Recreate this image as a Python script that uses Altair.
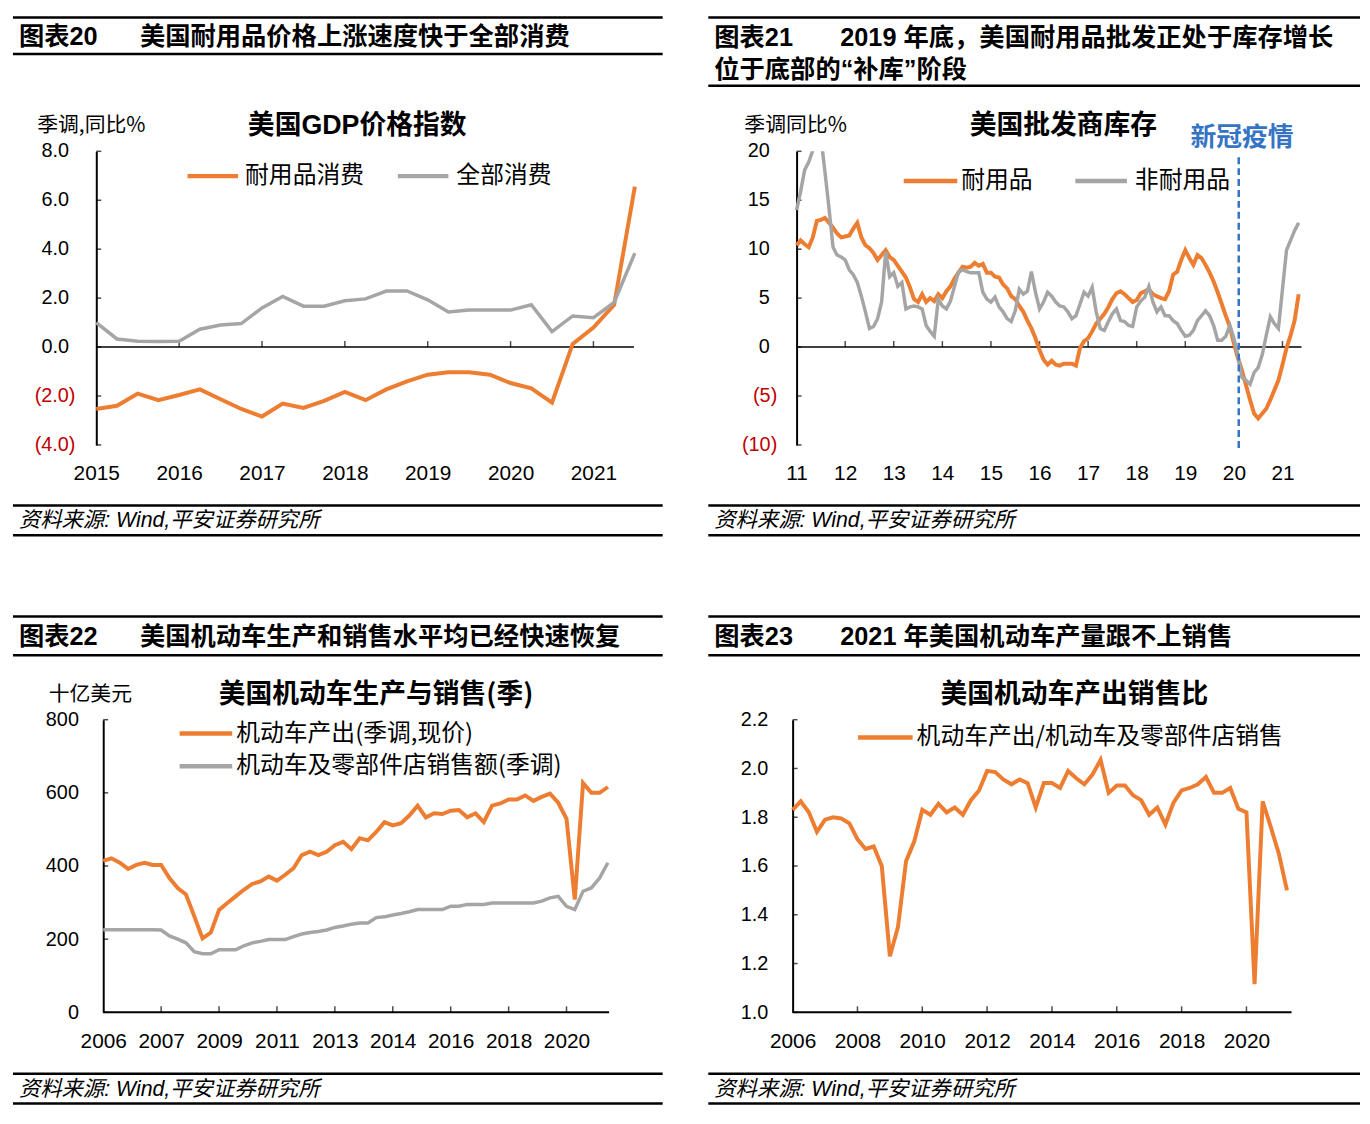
import altair as alt
import pandas as pd

# ---------------- data ----------------
# 图表20  美国GDP价格指数 (quarterly, first point 2015Q1), 季调同比 %
gdp_q = list(range(27))
gdp_durable = [-2.53, -2.40, -1.90, -2.17, -1.96, -1.73, -2.13, -2.53, -2.84, -2.31,
               -2.49, -2.20, -1.83, -2.17, -1.73, -1.40, -1.13, -1.03, -1.03, -1.13,
               -1.47, -1.69, -2.27, 0.13, 0.80, 1.73, 6.56]
gdp_all = [1.00, 0.33, 0.24, 0.23, 0.24, 0.73, 0.90, 0.96, 1.60, 2.07,
           1.67, 1.67, 1.89, 1.97, 2.29, 2.29, 1.93, 1.43, 1.51, 1.51,
           1.51, 1.73, 0.63, 1.27, 1.20, 1.83, 3.84]
gdp_x_ticks = [0, 4, 8, 12, 16, 20, 24]
gdp_y_ticks = [-4, -2, 0, 2, 4, 6, 8]
gdp_y_labels = ["(4.0)", "(2.0)", "0.0", "2.0", "4.0", "6.0", "8.0"]

# 图表21  美国批发商库存 (monthly, first point 2011-01), 季调同比 %
inv_m = list(range(125))
inv_durable = [10.4, 10.9, 10.5, 10.2, 11.2, 12.9, 13.0, 13.2, 12.7, 12.2,
               11.6, 11.2, 11.3, 11.4, 12.1, 12.7, 11.2, 10.4, 10.1, 9.6,
               8.9, 9.4, 9.9, 9.2, 8.9, 8.3, 7.7, 7.1, 6.1, 4.9,
               4.6, 5.4, 4.6, 5.0, 4.7, 5.4, 5.0, 5.7, 6.2, 7.0,
               7.6, 8.2, 8.1, 8.2, 8.6, 8.3, 8.5, 7.6, 7.6, 7.2,
               7.1, 6.4, 6.0, 5.2, 4.9, 4.2, 3.6, 2.7, 1.9, 0.9,
               -0.3, -1.3, -1.8, -1.4, -1.8, -1.9, -1.7, -1.7, -1.7, -1.9,
               -0.1, 0.6, 0.9, 1.6, 2.4, 2.9, 3.4, 4.1, 4.9, 5.5,
               5.7, 5.4, 5.0, 4.6, 4.8, 5.5, 5.7, 5.9, 5.4, 5.2,
               5.0, 4.9, 5.7, 7.4, 7.7, 8.9, 9.9, 9.1, 8.4, 9.4,
               9.1, 8.4, 7.6, 6.7, 5.6, 4.4, 3.2, 2.1, 0.4, -1.1,
               -2.4, -3.9, -5.4, -6.8, -7.3, -6.8, -6.3, -5.4, -4.4, -3.4,
               -1.8, -0.1, 1.2, 2.7, 5.4]
inv_nondurable = [14.0, 15.9, 18.1, 18.9, 20.1, 22.0, 21.5, 17.9, 14.2, 10.2,
                  9.4, 9.2, 8.9, 7.9, 7.4, 6.6, 5.2, 3.6, 1.9, 2.1,
                  2.9, 4.6, 9.7, 7.2, 7.6, 6.2, 6.6, 3.9, 4.1, 4.2,
                  4.1, 3.9, 2.2, 1.6, 1.1, 4.9, 4.2, 3.9, 4.7, 6.2,
                  7.7, 7.9, 7.7, 7.6, 7.6, 7.6, 5.6, 4.9, 4.6, 5.1,
                  4.1, 3.6, 2.9, 2.6, 3.7, 5.9, 5.4, 5.7, 7.7, 5.6,
                  3.9, 4.6, 5.6, 5.2, 4.6, 4.2, 4.1, 3.6, 2.9, 3.2,
                  4.4, 5.6, 5.2, 6.1, 3.6, 1.9, 1.7, 2.6, 3.4, 3.9,
                  2.7, 2.6, 2.2, 2.1, 4.1, 4.7, 5.1, 6.2, 4.6, 3.6,
                  4.1, 3.2, 3.2, 2.7, 2.4, 1.7, 1.1, 1.2, 1.7, 2.7,
                  3.2, 3.7, 3.2, 2.2, 0.7, 0.7, 1.1, 2.2, 0.9, -0.8,
                  -3.1, -3.4, -3.8, -2.6, -2.1, -0.8, 1.2, 3.1, 2.4, 1.9,
                  5.9, 9.9, 10.9, 11.9, 12.7]
inv_x_ticks = [0, 12, 24, 36, 48, 60, 72, 84, 96, 108, 120]
inv_y_ticks = [-10, -5, 0, 5, 10, 15, 20]
inv_y_labels = ["(10)", "(5)", "0", "5", "10", "15", "20"]
covid_month = [109.2]

# 图表22/23  (quarterly, first point 2006Q1), 十亿美元
auto_q = list(range(62))
auto_output = [414, 421, 409, 392, 403, 409, 403, 403, 367, 340,
               322, 263, 202, 218, 280, 299, 317, 335, 351, 358,
               371, 360, 376, 394, 430, 439, 430, 439, 457, 466,
               446, 476, 470, 493, 520, 511, 517, 538, 565, 533,
               544, 542, 551, 553, 533, 544, 520, 565, 571, 582,
               582, 593, 578, 589, 598, 573, 529, 308, 627, 600,
               600, 616]
auto_sales = [226, 226, 226, 226, 226, 226, 226, 225, 209, 200,
              190, 166, 160, 160, 171, 171, 171, 182, 190, 194,
              199, 199, 199, 207, 214, 218, 221, 225, 232, 236,
              241, 244, 244, 259, 261, 266, 270, 275, 281, 281,
              281, 281, 290, 290, 295, 295, 295, 299, 299, 299,
              299, 299, 299, 304, 313, 317, 290, 281, 331, 340,
              367, 409]
auto_ratio = [1.83, 1.865, 1.82, 1.74, 1.79, 1.80, 1.795, 1.775, 1.71, 1.67,
              1.68, 1.60, 1.23, 1.35, 1.62, 1.70, 1.83, 1.81, 1.855, 1.82,
              1.84, 1.81, 1.87, 1.91, 1.99, 1.985, 1.955, 1.935, 1.955, 1.94,
              1.84, 1.94, 1.94, 1.92, 1.99, 1.96, 1.935, 1.975, 2.035, 1.90,
              1.93, 1.93, 1.89, 1.87, 1.81, 1.84, 1.77, 1.86, 1.91, 1.92,
              1.935, 1.965, 1.90, 1.90, 1.92, 1.835, 1.82, 1.115, 1.865, 1.76,
              1.65, 1.50]
auto3_x_ticks = [0, 7, 14, 21, 28, 35, 42, 49, 56]
auto4_x_ticks = [0, 8, 16, 24, 32, 40, 48, 56]
auto3_y_ticks = [0, 200, 400, 600, 800]
auto4_y_ticks = [1.0, 1.2, 1.4, 1.6, 1.8, 2.0, 2.2]

# ---------------- style ----------------
ORANGE = "#ED7D31"
GRAY = "#A5A5A5"
RED = "#C00000"
BLUE = "#3574C4"
NUM = "Liberation Sans, Noto Sans CJK SC"
CJK = "Noto Sans CJK SC, Liberation Sans"
SOURCE = "资料来源: Wind,平安证券研究所"
HEAD = 25.5
TITLE = 27
LEG = 24

one = pd.DataFrame({"k": [0]})


def txt(x, y, s, size=20, weight="normal", align="left", color="black", style="normal", font=CJK):
    return alt.Chart(one).mark_text(
        align=align, baseline="middle", font=font, fontSize=size,
        fontWeight=weight, fontStyle=style, color=color
    ).encode(x=alt.value(x), y=alt.value(y), text=alt.value(s))


def hline(xa, xb, y, w=2.5, color="black"):
    return alt.Chart(one).mark_rule(color=color, strokeWidth=w).encode(
        x=alt.value(xa), x2=alt.value(xb), y=alt.value(y))


def frame(left, right, top, bottom, tag, tag_x, lines, title_x, ys):
    layers = [hline(left, right, top), hline(left, right, bottom),
              txt(tag_x, ys[0], tag, HEAD, "bold", font=NUM)]
    for k, s in enumerate(lines):
        layers.append(txt(title_x if k == 0 else tag_x, ys[k], s, HEAD, "bold", font=NUM))
    layers += [hline(left, right, 357), hline(left, right, 387),
               txt(tag_x, 373, SOURCE, 21.5, style="italic", font=NUM)]
    return layers


def legend_item(xa, xb, y, color, label, tx):
    return [hline(xa, xb, y, 4.5, color), txt(tx, y, label, LEG)]


def xaxis(values, expr):
    return alt.Axis(values=values, labelExpr=expr, domain=False, ticks=False, grid=False,
                    labelPadding=18, labelFont=NUM, labelFontSize=21, labelColor="black",
                    labelFlush=False, labelOverlap=False)


def yaxis(values, pad=25, offset=0, fmt=None, labels=True):
    kw = dict(values=values, domain=True, domainColor="black", domainWidth=2, ticks=False,
              grid=False, labelPadding=pad, labelFont=NUM, labelFontSize=20,
              labelColor="black", labelOverlap=False, offset=offset, labels=labels)
    if fmt:
        kw["format"] = fmt
    return alt.Axis(**kw)


def ylabels(values, texts, yenc, x_pos, x_neg):
    df = pd.DataFrame({"v": values, "t": texts})
    base = alt.Chart(df).mark_text(align="right", baseline="middle", font=NUM, fontSize=20)
    pos = base.encode(y=yenc, x=alt.value(x_pos), text="t:N", color=alt.value("black")
                      ).transform_filter("datum.v >= 0")
    neg = base.encode(y=yenc, x=alt.value(x_neg), text="t:N", color=alt.value(RED)
                      ).transform_filter("datum.v < 0")
    return [pos, neg]


# ---------------- 图表20 ----------------
W1, H1 = 544, 296
x1 = alt.X("i:Q", title=None, scale=alt.Scale(domain=[0, 26.05], nice=False, zero=False),
           axis=xaxis(gdp_x_ticks, "format(2015 + datum.value/4, 'd')"))
y1 = alt.Y("v:Q", title=None, scale=alt.Scale(domain=[-4, 8], nice=False, zero=False),
           axis=yaxis(gdp_y_ticks, labels=False))
p1_layers = frame(-84, 571, -135, -98, "图表20", -78, ["美国耐用品价格上涨速度快于全部消费"], 44, [-115])
p1_layers += [
    txt(-5, -25, "季调,同比%", 21, align="center"),
    txt(263, -25, "美国GDP价格指数", TITLE, "bold", align="center", font=NUM),
]
p1_layers += legend_item(92, 143, 25, ORANGE, "耐用品消费", 150)
p1_layers += legend_item(304, 355, 25, GRAY, "全部消费", 363)
p1_layers += ylabels(gdp_y_ticks, gdp_y_labels, y1, -27.5, -21)
p1_layers += [
    alt.Chart(pd.DataFrame({"v": [0]})).mark_rule(color="black", strokeWidth=1.5).encode(
        y=y1, x=alt.value(0), x2=alt.value(W1 - 2)),
    alt.Chart(pd.DataFrame({"i": gdp_x_ticks[1:], "v": [0] * 6})).mark_tick(
        orient="vertical", size=6, thickness=1.5, color="black", yOffset=-3).encode(x=x1, y=y1),
    alt.Chart(pd.DataFrame({"v": gdp_y_ticks})).mark_tick(
        orient="horizontal", size=5, thickness=1.5, color="black", xOffset=2.5).encode(y=y1, x=alt.value(0)),
    alt.Chart(pd.DataFrame({"i": gdp_q, "v": gdp_durable})).mark_line(
        color=ORANGE, strokeWidth=4).encode(x=x1, y=y1),
    alt.Chart(pd.DataFrame({"i": gdp_q, "v": gdp_all})).mark_line(
        color=GRAY, strokeWidth=3.5).encode(x=x1, y=y1),
]
p1 = alt.layer(*p1_layers).properties(width=W1, height=H1)

# ---------------- 图表21 ----------------
W2, H2 = 513, 296
x2 = alt.X("m:Q", title=None, scale=alt.Scale(domain=[-0.98, 124.7], nice=False, zero=False),
           axis=xaxis(inv_x_ticks, "format(11 + datum.value/12, 'd')"))
y2 = alt.Y("v:Q", title=None, scale=alt.Scale(domain=[-10, 20], nice=False, zero=False),
           axis=yaxis(inv_y_ticks, offset=-4, labels=False))
p2_layers = frame(-85, 572, -135, -66, "图表21", -79,
                  ["2019 年底，美国耐用品批发正处于库存增长", "位于底部的“补库”阶段"], 48, [-114.5, -82])
p2_layers += [
    txt(3, -25, "季调同比%", 21, align="center"),
    txt(273, -25, "美国批发商库存", TITLE, "bold", align="center"),
    txt(453, -13, "新冠疫情", 26, "bold", align="center", color=BLUE),
]
p2_layers += legend_item(112, 166, 30, ORANGE, "耐用品", 170)
p2_layers += legend_item(285, 337, 30, GRAY, "非耐用品", 345)
p2_layers += ylabels(inv_y_ticks, inv_y_labels, y2, -23, -15.5)
p2_layers += [
    alt.Chart(pd.DataFrame({"v": [0]})).mark_rule(color="black", strokeWidth=1.5).encode(
        y=y2, x=alt.value(4), x2=alt.value(W2)),
    alt.Chart(pd.DataFrame({"m": inv_x_ticks[1:], "v": [0] * 10})).mark_tick(
        orient="vertical", size=6, thickness=1.5, color="black", yOffset=-3).encode(x=x2, y=y2),
    alt.Chart(pd.DataFrame({"v": inv_y_ticks})).mark_tick(
        orient="horizontal", size=5, thickness=1.5, color="black", xOffset=2.5).encode(y=y2, x=alt.value(4)),
    alt.Chart(pd.DataFrame({"m": inv_m, "v": inv_durable})).mark_line(
        color=ORANGE, strokeWidth=4, clip=True).encode(x=x2, y=y2),
    alt.Chart(pd.DataFrame({"m": inv_m, "v": inv_nondurable})).mark_line(
        color=GRAY, strokeWidth=3.5, clip=True).encode(x=x2, y=y2),
    alt.Chart(pd.DataFrame({"m": covid_month})).mark_rule(
        color=BLUE, strokeWidth=2.5, strokeDash=[7, 4]).encode(x=x2, y=alt.value(6), y2=alt.value(303)),
]
p2 = alt.layer(*p2_layers).properties(width=W2, height=H2)

# ---------------- 图表22 ----------------
W3, H3 = 517, 295
x3 = alt.X("q:Q", title=None, scale=alt.Scale(domain=[-0.84, 61.15], nice=False, zero=False),
           axis=xaxis(auto3_x_ticks, "format(2006 + floor(datum.value/4), 'd')"))
y3 = alt.Y("v:Q", title=None, scale=alt.Scale(domain=[0, 800], nice=False, zero=False),
           axis=yaxis(auto3_y_ticks, 25, offset=-7, fmt="d"))
p3_layers = frame(-84, 571, -104, -65, "图表22", -78, ["美国机动车生产和销售水平均已经快速恢复"], 44, [-83])
p3_layers += [
    txt(-6, -25, "十亿美元", 21, align="center"),
    txt(282, -25, "美国机动车生产与销售(季)", TITLE, "bold", align="center"),
]
p3_layers += legend_item(84, 137, 14, ORANGE, "机动车产出(季调,现价)", 141)
p3_layers += legend_item(84, 137, 47, GRAY, "机动车及零部件店销售额(季调)", 141)
p3_layers += [
    hline(7, W3, H3, 2),
    alt.Chart(pd.DataFrame({"q": auto3_x_ticks[1:]})).mark_tick(
        orient="vertical", size=6, thickness=1.5, color="black", yOffset=-3).encode(x=x3, y=alt.value(H3)),
    alt.Chart(pd.DataFrame({"v": auto3_y_ticks})).mark_tick(
        orient="horizontal", size=5, thickness=1.5, color="black", xOffset=2.5).encode(y=y3, x=alt.value(7)),
    alt.Chart(pd.DataFrame({"q": auto_q, "v": auto_output})).mark_line(
        color=ORANGE, strokeWidth=4).encode(x=x3, y=y3),
    alt.Chart(pd.DataFrame({"q": auto_q, "v": auto_sales})).mark_line(
        color=GRAY, strokeWidth=3.5).encode(x=x3, y=y3),
]
p3 = alt.layer(*p3_layers).properties(width=W3, height=H3)

# ---------------- 图表23 ----------------
W4, H4 = 500, 295
x4 = alt.X("q:Q", title=None, scale=alt.Scale(domain=[0, 61.2], nice=False, zero=False),
           axis=xaxis(auto4_x_ticks, "format(2006 + floor(datum.value/4), 'd')"))
y4 = alt.Y("v:Q", title=None, scale=alt.Scale(domain=[1.0, 2.2], nice=False, zero=False),
           axis=yaxis(auto4_y_ticks, 25, fmt=".1f"))
p4_layers = frame(-85, 572, -104, -65, "图表23", -79, ["2021 年美国机动车产量跟不上销售"], 48, [-83])
p4_layers += [
    txt(284, -25, "美国机动车产出销售比", TITLE, "bold", align="center"),
]
p4_layers += legend_item(66, 121, 18, ORANGE, "机动车产出/机动车及零部件店销售", 125)
p4_layers += [
    hline(0, 503, H4, 2),
    alt.Chart(pd.DataFrame({"q": auto4_x_ticks[1:]})).mark_tick(
        orient="vertical", size=6, thickness=1.5, color="black", yOffset=-3).encode(x=x4, y=alt.value(H4)),
    alt.Chart(pd.DataFrame({"v": auto4_y_ticks})).mark_tick(
        orient="horizontal", size=5, thickness=1.5, color="black", xOffset=2.5).encode(y=y4, x=alt.value(0)),
    alt.Chart(pd.DataFrame({"q": auto_q, "v": auto_ratio})).mark_line(
        color=ORANGE, strokeWidth=4).encode(x=x4, y=y4),
]
p4 = alt.layer(*p4_layers).properties(width=W4, height=H4)

chart = alt.concat(p1, p2, p3, p4, columns=2, spacing={"row": 78, "column": 42}).properties(
    padding={"left": 3, "top": 3, "right": 0, "bottom": 0}
).configure_view(stroke=None)

chart.save("out.html", embed_options={"renderer": "svg", "actions": False})
